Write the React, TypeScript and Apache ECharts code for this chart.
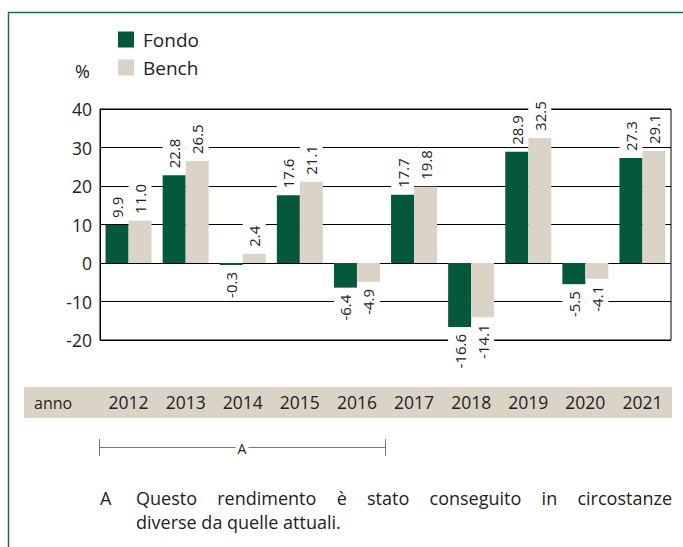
import React, { useEffect, useRef } from "react";
import * as echarts from "echarts";

const years = ["2012", "2013", "2014", "2015", "2016", "2017", "2018", "2019", "2020", "2021"];
const fondo = [9.9, 22.8, -0.3, 17.6, -6.4, 17.7, -16.6, 28.9, -5.5, 27.3];
const bench = [11.0, 26.5, 2.4, 21.1, -4.9, 19.8, -14.1, 32.5, -4.1, 29.1];
const yTicks = { min: -20, max: 40, interval: 10 };
const noteLine1 = "Questo rendimento è stato conseguito in circostanze";
const noteLine2 = "diverse da quelle attuali.";

const FONT = '"Open Sans", "Noto Sans", sans-serif';
const GREEN = "#04583C";
const BEIGE = "#DCD3C7";
const TEXT = "#222222";

function labelFor(v: number) {
  const common = {
    show: true,
    rotate: 90,
    verticalAlign: "middle",
    fontFamily: FONT,
    fontSize: 15,
    color: TEXT,
    backgroundColor: "#ffffff",
    padding: [4, 2, 4, 2],
    distance: 5,
    formatter: (p: any) => Number(p.value).toFixed(1),
  };
  return v >= 0
    ? { ...common, position: "top", align: "left" }
    : { ...common, position: "bottom", align: "right" };
}

function justifiedWords(text: string, x0: number, x1: number, y: number, font: string) {
  const words = text.split(" ");
  const canvas = document.createElement("canvas");
  const ctx = canvas.getContext("2d")!;
  ctx.font = font;
  const widths = words.map((w) => ctx.measureText(w).width);
  const total = widths.reduce((a, b) => a + b, 0);
  const gap = (x1 - x0 - total) / (words.length - 1);
  let x = x0;
  return words.map((w, i) => {
    const el = {
      type: "text",
      x,
      y,
      style: { text: w, font, fill: TEXT, textVerticalAlign: "middle" },
    };
    x += widths[i] + gap;
    return el;
  });
}

export default function App() {
  const ref = useRef<HTMLDivElement>(null);
  useEffect(() => {
    if (!ref.current) return;
    const chart = echarts.init(ref.current, null, { renderer: "svg" });
    const noteFont = `18px ${FONT}`;
    chart.setOption({
      animation: false,
      grid: {
        left: 100,
        top: 109,
        right: 12,
        bottom: 207,
        show: true,
        borderColor: "#000",
        borderWidth: 1,
        backgroundColor: "transparent",
      },
      legend: {
        orient: "vertical",
        left: 113,
        top: 25,
        itemWidth: 16,
        itemHeight: 16,
        itemGap: 9,
        icon: "rect",
        textStyle: { fontFamily: FONT, fontSize: 19, color: TEXT, padding: [0, 0, 0, 4] },
        data: ["Fondo", "Bench"],
      },
      xAxis: {
        type: "category",
        data: years,
        axisLine: { show: false },
        axisTick: { show: false },
        axisLabel: {
          margin: 53,
          fontFamily: FONT,
          fontSize: 17.5,
          color: TEXT,
        },
      },
      yAxis: {
        type: "value",
        min: yTicks.min,
        max: yTicks.max,
        interval: yTicks.interval,
        axisLine: { show: true, lineStyle: { color: "#000", width: 1 } },
        axisTick: { show: false },
        splitLine: { show: true, lineStyle: { color: "#000", width: 1 } },
        axisLabel: { fontFamily: FONT, fontSize: 17.5, color: TEXT, margin: 8 },
      },
      series: [
        {
          name: "Fondo",
          type: "bar",
          barWidth: 23,
          barGap: "0%",
          barMinHeight: 2,
          itemStyle: { color: GREEN },
          data: fondo.map((v) => ({ value: v, label: labelFor(v) })),
          z: 3,
        },
        {
          name: "Bench",
          type: "bar",
          barWidth: 23,
          barGap: "0%",
          barMinHeight: 2,
          itemStyle: { color: BEIGE },
          data: bench.map((v) => ({ value: v, label: labelFor(v) })),
          z: 3,
        },
      ],
      graphic: [
        { type: "line", shape: { x1: 8, y1: 12.5, x2: 683, y2: 12.5 }, style: { stroke: "#1F6B4E", lineWidth: 1.5 } },
        { type: "line", shape: { x1: 8.5, y1: 12, x2: 8.5, y2: 547 }, style: { stroke: "#1F6B4E", lineWidth: 1.5 } },
        { type: "rect", z: -10, shape: { x: 24, y: 387, width: 648, height: 31 }, style: { fill: BEIGE } },
        { type: "text", x: 34, y: 403, style: { text: "anno", font: `16px ${FONT}`, fill: TEXT, textVerticalAlign: "middle" } },
        { type: "text", x: 75, y: 71, style: { text: "%", font: `18px ${FONT}`, fill: TEXT, textVerticalAlign: "middle" } },
        { type: "line", shape: { x1: 99.5, y1: 447.5, x2: 385.5, y2: 447.5 }, style: { stroke: "#777", lineWidth: 1 } },
        { type: "line", shape: { x1: 99.5, y1: 439, x2: 99.5, y2: 456 }, style: { stroke: "#777", lineWidth: 1 } },
        { type: "line", shape: { x1: 385.5, y1: 439, x2: 385.5, y2: 456 }, style: { stroke: "#777", lineWidth: 1 } },
        {
          type: "text",
          x: 242,
          y: 448,
          style: {
            text: "A",
            font: `14px ${FONT}`,
            fill: TEXT,
            textAlign: "center",
            textVerticalAlign: "middle",
            backgroundColor: "#fff",
            padding: [0, 2],
          },
        },
        { type: "text", x: 100, y: 498, style: { text: "A", font: noteFont, fill: TEXT, textVerticalAlign: "middle" } },
        ...justifiedWords(noteLine1, 136, 672, 498, noteFont),
        { type: "text", x: 136, y: 522, style: { text: noteLine2, font: noteFont, fill: TEXT, textVerticalAlign: "middle" } },
      ],
    });
    return () => chart.dispose();
  }, []);
  return <div ref={ref} style={{ position: "absolute", left: 0, top: 0, width: 683, height: 547 }} />;
}
